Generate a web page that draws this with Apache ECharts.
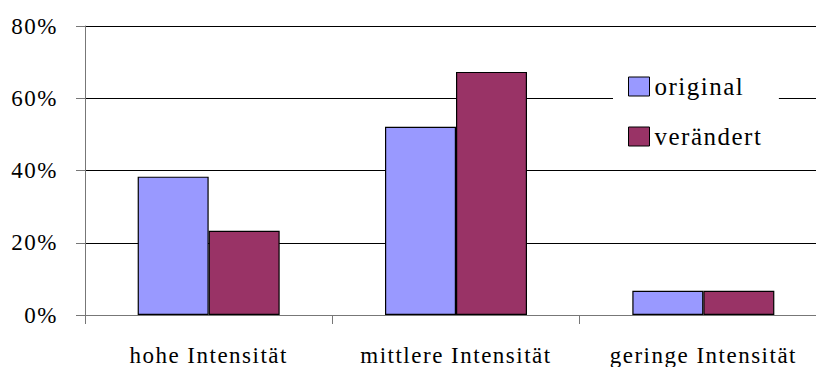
<!DOCTYPE html>
<html><head><meta charset="utf-8">
<script src="https://cdn.jsdelivr.net/npm/echarts@6/dist/echarts.min.js"></script>
<style>
html,body{margin:0;padding:0;background:#fff;}
#chart{width:816px;height:367px;}
#chart text{letter-spacing:1.5px;font-family:"Liberation Serif","Times New Roman",serif !important;}
</style></head>
<body><div id="chart"></div>
<script>
const categories = ['hohe Intensität', 'mittlere Intensität', 'geringe Intensität'];
const seriesNames = ['original', 'verändert'];
const originalValues = [0.383, 0.521, 0.067];
const veraendertValues = [0.233, 0.673, 0.067];
const yTicks = [0, 0.2, 0.4, 0.6, 0.8];

const SERIF = 'Times New Roman';
const chart = echarts.init(document.getElementById('chart'), null, {renderer: 'svg'});
chart.setOption({
  animation: false,
  backgroundColor: '#fff',
  textStyle: {fontFamily: SERIF},
  grid: {left: 85, width: 742, top: 26, bottom: 52, outerBoundsMode: 'none'},
  legend: {
    orient: 'vertical', left: 613, top: 60,
    padding: [14, 30, 14, 15],
    backgroundColor: '#fff',
    itemWidth: 21, itemHeight: 19, itemGap: 25,
    icon: 'rect',
    itemStyle: {borderColor: '#000', borderWidth: 1},
    textStyle: {fontFamily: SERIF, fontSize: 25, color: '#000', lineHeight: 19},
    data: seriesNames
  },
  xAxis: {
    type: 'category', data: categories, boundaryGap: true,
    axisLine: {lineStyle: {color: '#777', width: 1}},
    axisTick: {show: true, length: 9, inside: false, alignWithLabel: false, lineStyle: {color: '#777'}},
    axisLabel: {fontFamily: SERIF, fontSize: 23, color: '#000', margin: 29, interval: 0},
    splitLine: {show: false}
  },
  yAxis: {
    type: 'value', min: yTicks[0], max: yTicks[yTicks.length - 1], interval: 0.2,
    axisLine: {show: true, lineStyle: {color: '#777', width: 1}},
    axisTick: {show: true, length: 9, lineStyle: {color: '#777'}},
    axisLabel: {fontFamily: SERIF, fontSize: 23, color: '#000', margin: 27,
      formatter: v => Math.round(v * 100) + '%'},
    splitLine: {show: true, lineStyle: {color: '#000', width: 1}}
  },
  series: [
    {name: seriesNames[0], type: 'bar', data: originalValues, barWidth: 71, barGap: '0%',
      itemStyle: {color: '#9999FF', borderColor: '#000', borderWidth: 1.2}},
    {name: seriesNames[1], type: 'bar', data: veraendertValues, barWidth: 71, barGap: '0%',
      itemStyle: {color: '#993366', borderColor: '#000', borderWidth: 1.2}}
  ]
});
</script></body></html>
